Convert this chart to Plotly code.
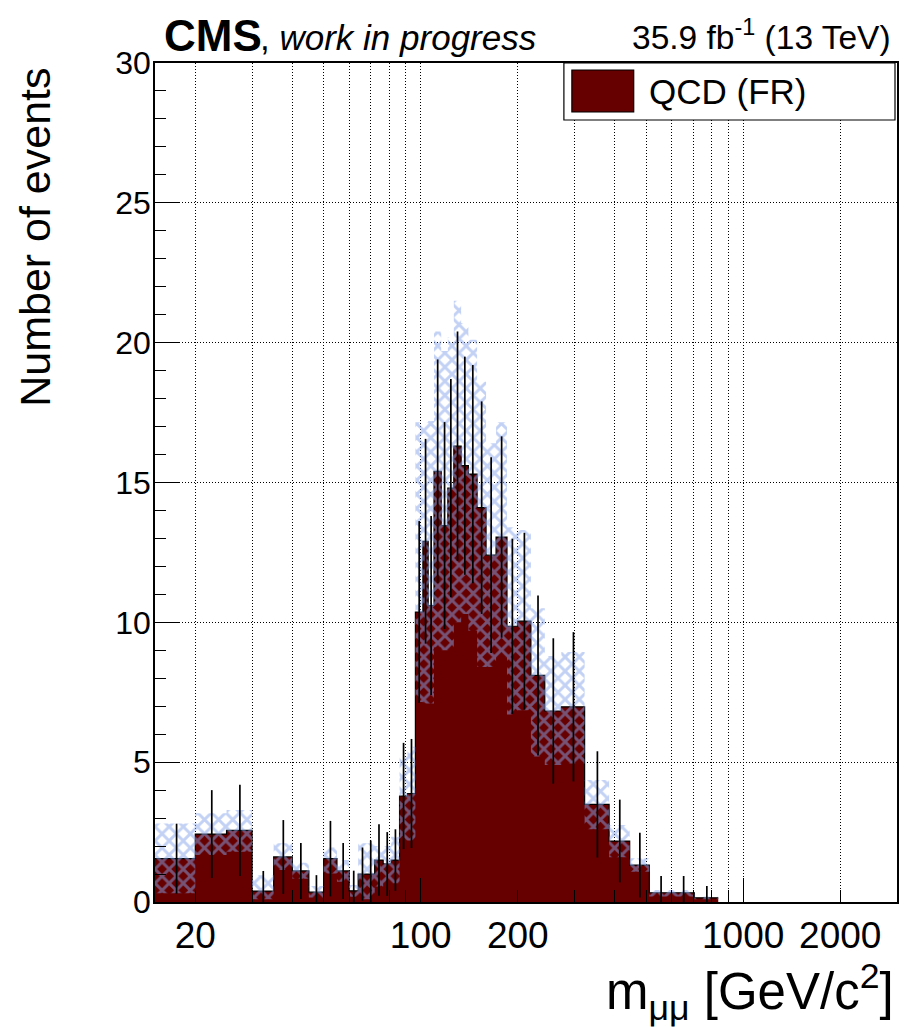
import plotly.graph_objects as go

# ---------------- data ----------------
bin_edges = [15, 20, 25, 30, 35, 40, 45, 50, 55, 60, 64, 68, 72, 76.5, 81, 86, 91, 96.3,
             101.6, 105.5, 110, 115.8, 121.4, 126.7, 133.5, 140.6, 149.6, 159.5, 171.3,
             185.2, 199.7, 219.7, 242.6, 273, 322.4, 384, 444.8, 511.7, 601.6, 706.2, 837.2]

qcd_values = [1.55, 2.43, 2.56, 0.39, 1.61, 1.11, 0.35, 1.55, 1.11, 0.40,
              1.0, 1.0, 1.5, 1.36, 1.5, 3.79, 3.88, 10.37, 12.9, 10.6,
              15.4, 13.46, 14.8, 16.3, 15.6, 15.3, 14.1, 12.4, 13.05, 9.86,
              10.04, 8.1, 6.83, 6.98, 3.49, 2.18, 1.32, 0.33, 0.33, 0.15]

stat_errors = [1.25, 1.57, 1.63, 0.72, 1.32, 1.0, 0.61, 1.35, 1.0, 0.72,
               0.95, 1.2, 1.28, 1.14, 1.1, 1.9, 1.95, 3.25, 3.66, 3.2,
               4.0, 3.7, 3.9, 4.1, 3.9, 3.9, 3.8, 3.5, 3.6, 3.13,
               3.16, 2.86, 2.6, 2.67, 1.9, 1.48, 1.16, 0.6, 0.6, 0.42]

band_low = [0.31, 1.68, 1.8, 0.1, 1.14, 0.83, 0.16, 1.02, 0.72, 0.19,
            0.1, 0.1, 0.55, 0.67, 0.67, 2.2, 2.2, 7.15, 7.1, 7.1,
            9.1, 9.0, 9.0, 10.0, 10.3, 9.7, 8.4, 8.4, 8.75, 6.7,
            6.86, 5.2, 4.9, 4.95, 2.6, 1.6, 1.08, 0.2, 0.2, 0.1]

band_high = [2.81, 3.17, 3.29, 0.96, 2.1, 1.4, 0.57, 1.95, 1.5, 0.61,
             2.1, 2.1, 2.0, 2.0, 2.33, 5.2, 5.55, 17.15, 17.15, 17.2,
             20.4, 19.7, 20.2, 21.5, 20.7, 20.1, 18.6, 16.4, 17.15, 13.4,
             13.3, 10.5, 8.8, 8.94, 4.36, 2.75, 1.56, 0.43, 0.43, 0.2]

major_ticks = [20, 100, 200, 1000, 2000]
minor_ticks = [30, 40, 50, 60, 70, 80, 90, 300, 400, 500, 600, 700, 800, 900]
decade_ticks = [100, 1000]
y_ticks = [0, 5, 10, 15, 20, 25, 30]

# ---------------- figure ----------------
DARK_RED = "#660000"
HATCH = "#86a3ea"
FONT = "Liberation Sans"
GRID_DASH = "1px,2px"

fig = go.Figure()

# histogram (step, filled)
fig.add_trace(go.Scatter(
    x=bin_edges, y=qcd_values + [qcd_values[-1]],
    mode="lines", line=dict(shape="hv", color="black", width=1.2),
    fill="tozeroy", fillcolor=DARK_RED, showlegend=False, hoverinfo="skip"))

# hatched uncertainty band (one rectangle per bin)
bx, by = [], []
for i in range(len(qcd_values)):
    lo, hi = bin_edges[i], bin_edges[i + 1]
    bx += [lo, hi, hi, lo, lo, None]
    by += [band_low[i], band_low[i], band_high[i], band_high[i], band_low[i], None]
fig.add_trace(go.Scatter(
    x=bx, y=by, mode="lines", line=dict(width=0, color="rgba(0,0,0,0)"),
    fill="toself", fillcolor="rgba(0,0,0,0)",
    fillpattern=dict(shape="x", fgcolor=HATCH, bgcolor="rgba(0,0,0,0)",
                     size=10, solidity=0.5, fillmode="overlay"),
    showlegend=False, hoverinfo="skip"))

# statistical error bars at bin centres
centres = [(bin_edges[i] + bin_edges[i + 1]) / 2 for i in range(len(qcd_values))]
fig.add_trace(go.Scatter(
    x=centres, y=qcd_values, mode="markers",
    marker=dict(size=1, color="rgba(0,0,0,0)"),
    error_y=dict(type="data", array=stat_errors, color="black", thickness=1.7, width=0),
    showlegend=False, hoverinfo="skip"))

# invisible trace on the overlay axis so that its long decade ticks render
fig.add_trace(go.Scatter(x=[100], y=[0], xaxis="x2", mode="markers",
                         marker=dict(size=1, color="rgba(0,0,0,0)"),
                         showlegend=False, hoverinfo="skip"))

L, R, T, B = 155, 6, 63, 125
W, H = 905, 1027
pw, ph = W - L - R, H - T - B


def px(xpix):
    return (xpix - L) / pw


def py(ypix):
    return (H - B - ypix) / ph


xaxis_common = dict(type="log", range=[1.17609126, 3.47712125])
fig.update_layout(
    width=W, height=H,
    margin=dict(l=L, r=R, t=T, b=B),
    paper_bgcolor="white", plot_bgcolor="white",
    font=dict(family=FONT, color="black"),
    xaxis=dict(
        **xaxis_common,
        tickmode="array", tickvals=major_ticks,
        ticktext=[str(v) for v in major_ticks],
        ticks="inside", ticklen=12, tickwidth=1.2, tickcolor="black",
        tickfont=dict(size=37, family=FONT),
        showgrid=True, gridcolor="black", griddash=GRID_DASH, gridwidth=1,
        minor=dict(tickmode="array", tickvals=minor_ticks, ticks="inside",
                   ticklen=12, tickwidth=1.2, tickcolor="black",
                   showgrid=True, gridcolor="black", griddash=GRID_DASH, gridwidth=1),
        showline=True, linecolor="black", linewidth=1.5, mirror=True,
        zeroline=False,
    ),
    xaxis2=dict(
        **xaxis_common, overlaying="x", matches="x", side="bottom",
        tickmode="array", tickvals=decade_ticks, showticklabels=False,
        ticks="inside", ticklen=24, tickwidth=1.2, tickcolor="black",
        showgrid=False, showline=False, zeroline=False,
    ),
    yaxis=dict(
        range=[0, 30], tickmode="array", tickvals=y_ticks,
        ticks="inside", ticklen=24, tickwidth=1.2, tickcolor="black",
        tickfont=dict(size=32, family=FONT), ticklabelstandoff=-4,
        showgrid=True, gridcolor="black", griddash=GRID_DASH, gridwidth=1,
        minor=dict(dtick=1, ticks="inside", ticklen=11, tickwidth=1.2,
                   tickcolor="black", showgrid=False),
        showline=True, linecolor="black", linewidth=1.5, mirror=True,
        zeroline=False,
    ),
)

ann = []
ann.append(dict(text="<b>CMS</b>", x=px(162), y=py(35), xref="paper", yref="paper",
                xanchor="left", yanchor="middle", showarrow=False,
                font=dict(size=44, family=FONT)))
ann.append(dict(text=", <i>work in progress</i>", x=px(258), y=py(37), xref="paper",
                yref="paper", xanchor="left", yanchor="middle", showarrow=False,
                font=dict(size=35, family=FONT)))
ann.append(dict(text="35.9 fb<sup>-1</sup> (13 TeV)", x=px(895), y=py(35),
                xref="paper", yref="paper", xanchor="right", yanchor="middle",
                showarrow=False, font=dict(size=33.5, family=FONT)))
ann.append(dict(text="Number of events", x=px(34), y=py(66), xref="paper",
                yref="paper", xanchor="center", yanchor="top", textangle=-90,
                showarrow=False, font=dict(size=43, family=FONT)))
ann.append(dict(text="m<sub>μμ</sub> [GeV/c<sup>2</sup>]", x=px(898), y=py(992),
                xref="paper", yref="paper", xanchor="right", yanchor="middle",
                showarrow=False, font=dict(size=51, family=FONT)))
ann.append(dict(text="QCD (FR)", x=px(648), y=py(92), xref="paper", yref="paper",
                xanchor="left", yanchor="middle", showarrow=False,
                font=dict(size=35, family=FONT)))

shapes = [
    dict(type="rect", xref="paper", yref="paper", x0=px(565), x1=px(897),
         y0=py(120), y1=py(63), line=dict(color="black", width=1.2),
         fillcolor="white", layer="above"),
    dict(type="rect", xref="paper", yref="paper", x0=px(573), x1=px(635),
         y0=py(112), y1=py(70), line=dict(color="black", width=1.2),
         fillcolor=DARK_RED, layer="above"),
]
fig.update_layout(annotations=ann, shapes=shapes)

fig.write_html("out.html")
